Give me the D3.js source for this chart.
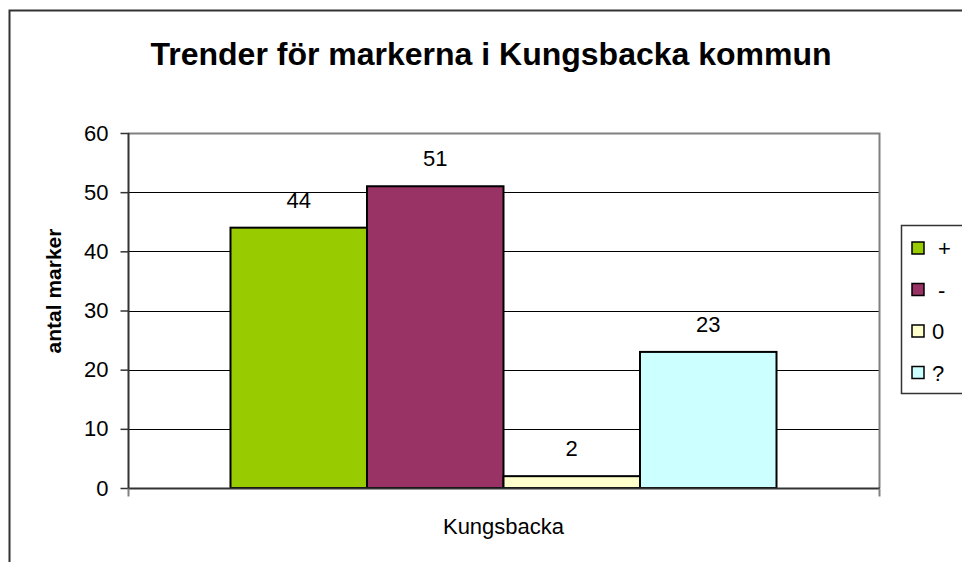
<!DOCTYPE html>
<html>
<head>
<meta charset="utf-8">
<script src="https://cdnjs.cloudflare.com/ajax/libs/d3/7.8.5/d3.min.js"></script>
<style>
  html, body { margin: 0; padding: 0; background: #fff; }
  svg { display: block; font-family: "Liberation Sans", Arial, sans-serif; }
</style>
</head>
<body>
<svg id="chart" width="962" height="562"></svg>
<script>
// ---- data ----
const categories = ["Kungsbacka"];
const seriesNames = [" +", " -", "0", "?"];
const seriesValues = [44, 51, 2, 23];
const seriesColors = ["#99CC00", "#993366", "#FFFFCC", "#CCFFFF"];
const yTicks = [0, 10, 20, 30, 40, 50, 60];
const titleText = "Trender för markerna i Kungsbacka kommun";
const yTitle = "antal marker";

// ---- layout ----
const svg = d3.select("#chart");
const plot = { left: 128, right: 879, top: 133, bottom: 488 };

// outer frame (partially visible)
svg.append("path")
  .attr("d", "M9.5,562 L9.5,10.5 L962,10.5")
  .attr("fill", "none").attr("stroke", "#333").attr("stroke-width", 2);

const y = d3.scaleLinear().domain([0, 60]).range([plot.bottom, plot.top]);
const x0 = d3.scaleBand().domain(categories).range([plot.left, plot.right]).paddingOuter(0.1877).paddingInner(0);
const x1 = d3.scaleBand().domain(seriesNames).range([0, x0.bandwidth()]).padding(0);

// gridlines
svg.append("g").selectAll("line").data(yTicks.filter(d => d > 0 && d < 60)).join("line")
  .attr("x1", plot.left).attr("x2", plot.right)
  .attr("y1", d => Math.round(y(d)) + 0.5).attr("y2", d => Math.round(y(d)) + 0.5)
  .attr("stroke", "#000").attr("stroke-width", 1);

// plot border top & right (gray)
svg.append("path")
  .attr("d", `M${plot.left},${Math.round(y(60)) + 0.5} L${plot.right + 0.5},${Math.round(y(60)) + 0.5} L${plot.right + 0.5},${plot.bottom}`)
  .attr("fill", "none").attr("stroke", "#808080").attr("stroke-width", 2);

// y axis
const yAxis = d3.axisLeft(y).tickValues(yTicks).tickSize(8).tickPadding(12);
const gy = svg.append("g").attr("transform", `translate(${plot.left + 0.5},0)`).call(yAxis);
gy.select(".domain").attr("stroke", "#333").attr("stroke-width", 2).attr("d", `M0,${plot.top}V${plot.bottom}`);
gy.selectAll(".tick line").attr("stroke", "#333").attr("stroke-width", 1.5);
gy.selectAll(".tick text").attr("font-size", 22).attr("fill", "#000")
  .attr("font-family", "'Liberation Sans', Arial, sans-serif");

// bars
const bars = seriesNames.map((n, i) => ({ name: n, value: seriesValues[i], color: seriesColors[i] }));
const gBars = svg.append("g").attr("transform", `translate(${x0(categories[0])},0)`);
gBars.selectAll("rect").data(bars).join("rect")
  .attr("x", d => x1(d.name))
  .attr("width", x1.bandwidth())
  .attr("y", d => y(d.value))
  .attr("height", d => y(0) - y(d.value))
  .attr("fill", d => d.color)
  .attr("stroke", "#000").attr("stroke-width", 2);

// value labels
gBars.selectAll("text").data(bars).join("text")
  .attr("x", d => x1(d.name) + x1.bandwidth() / 2)
  .attr("y", d => y(d.value) - 20)
  .attr("text-anchor", "middle")
  .attr("font-size", 22).attr("fill", "#000")
  .text(d => d.value);

// x axis
const xAxis = d3.axisBottom(x0).tickSize(0).tickPadding(0);
const gx = svg.append("g").attr("transform", `translate(0,${plot.bottom + 0.5})`).call(xAxis);
gx.select(".domain").attr("stroke", "#333").attr("stroke-width", 2)
  .attr("d", `M${plot.left},0H${plot.right + 1}`);
gx.selectAll(".tick text").attr("font-size", 22).attr("fill", "#000")
  .attr("font-family", "'Liberation Sans', Arial, sans-serif")
  .attr("dy", "0").attr("y", 45);
// boundary ticks of category axis
gx.append("g").selectAll("line").data([plot.left, plot.right]).join("line")
  .attr("x1", d => d + 0.5).attr("x2", d => d + 0.5).attr("y1", 0).attr("y2", 8)
  .attr("stroke", "#808080").attr("stroke-width", 2);

// title
svg.append("text")
  .attr("x", 491).attr("y", 65)
  .attr("text-anchor", "middle")
  .attr("font-size", 32).attr("font-weight", "bold").attr("fill", "#000")
  .text(titleText);

// y title
svg.append("text")
  .attr("transform", `translate(61,291) rotate(-90)`)
  .attr("text-anchor", "middle")
  .attr("font-size", 21).attr("font-weight", "bold").attr("fill", "#000")
  .text(yTitle);

// legend
const lg = svg.append("g");
lg.append("rect")
  .attr("x", 901.5).attr("y", 225.5).attr("width", 80).attr("height", 168)
  .attr("fill", "#fff").attr("stroke", "#333").attr("stroke-width", 1.5);
const rows = lg.selectAll("g.row").data(bars).join("g").attr("class", "row")
  .attr("transform", (d, i) => `translate(0,${248 + i * 41.5})`);
rows.append("rect")
  .attr("x", 912).attr("y", -6).attr("width", 12).attr("height", 12)
  .attr("fill", d => d.color).attr("stroke", "#000").attr("stroke-width", 1.5);
rows.append("text")
  .attr("x", 932).attr("y", 8)
  .attr("xml:space", "preserve").style("white-space", "pre")
  .attr("font-size", 22).attr("fill", "#000")
  .text(d => d.name);
</script>
</body>
</html>
